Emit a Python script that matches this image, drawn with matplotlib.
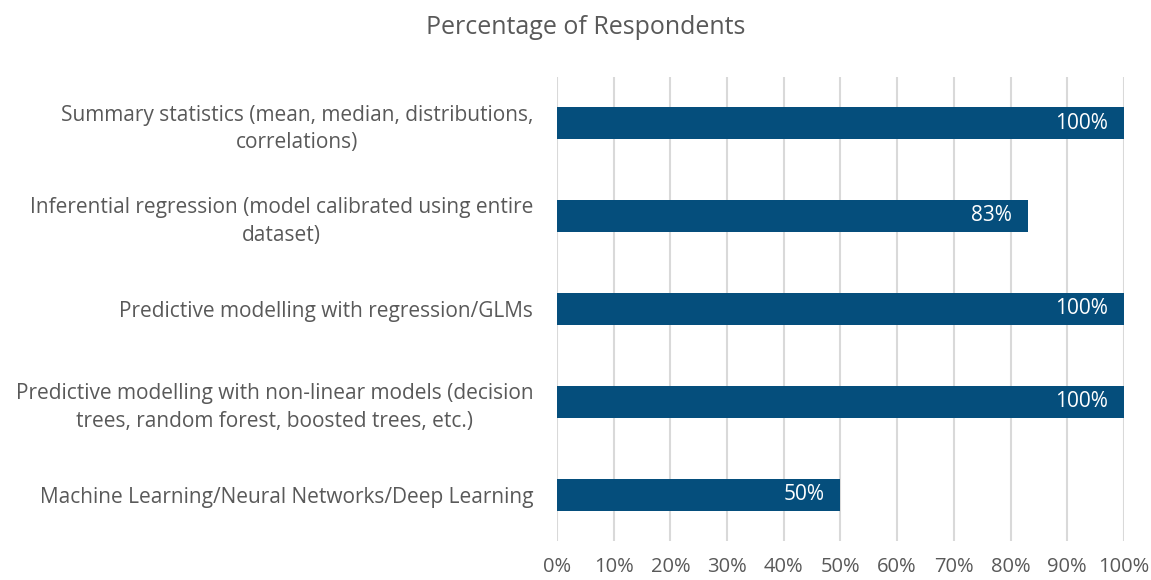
import matplotlib
matplotlib.use("Agg")
import matplotlib.pyplot as plt
from matplotlib.ticker import MultipleLocator, PercentFormatter

plt.rcParams['font.family'] = ['Open Sans', 'DejaVu Sans']

# data
categories = [
    "Summary statistics (mean, median, distributions,\ncorrelations)",
    "Inferential regression (model calibrated using entire\ndataset)",
    "Predictive modelling with regression/GLMs",
    "Predictive modelling with non-linear models (decision\ntrees, random forest, boosted trees, etc.)",
    "Machine Learning/Neural Networks/Deep Learning",
]
values = [100, 83, 100, 100, 50]

bar_color = "#054E7C"
text_color = "#595959"
grid_color = "#D9D9D9"

fig = plt.figure(figsize=(11.51, 5.80), dpi=100)
ax = fig.add_axes([0.4839, 0.0664, 0.4926, 0.8017])

ypos = list(range(len(categories)))
ax.barh(ypos, values, height=0.35, color=bar_color, zorder=3)

for y, v in zip(ypos, values):
    ax.annotate(f"{v}%", xy=(v, y), xytext=(-11.5, 0), textcoords="offset points",
                ha="right", va="center", color="white", fontsize=15, zorder=4)

ax.set_xlim(0, 100)
ax.set_ylim(len(categories) - 0.5, -0.5)
ax.set_yticks(ypos)
ax.set_yticklabels(categories, multialignment="center", fontsize=15,
                   linespacing=1.4)
ax.xaxis.set_major_locator(MultipleLocator(10))
ax.xaxis.set_major_formatter(PercentFormatter(decimals=0))

ax.grid(axis="x", color=grid_color, linewidth=1.5, zorder=0)
for s in ax.spines.values():
    s.set_visible(False)
ax.tick_params(axis="both", length=0, colors=text_color)
ax.tick_params(axis="x", pad=11, labelsize=14.5)
ax.tick_params(axis="y", pad=17)

fig.text(0.5085, 0.953, "Percentage of Respondents", ha="center", va="center",
         fontsize=18, color=text_color)

fig.savefig("out.png", dpi=100)
